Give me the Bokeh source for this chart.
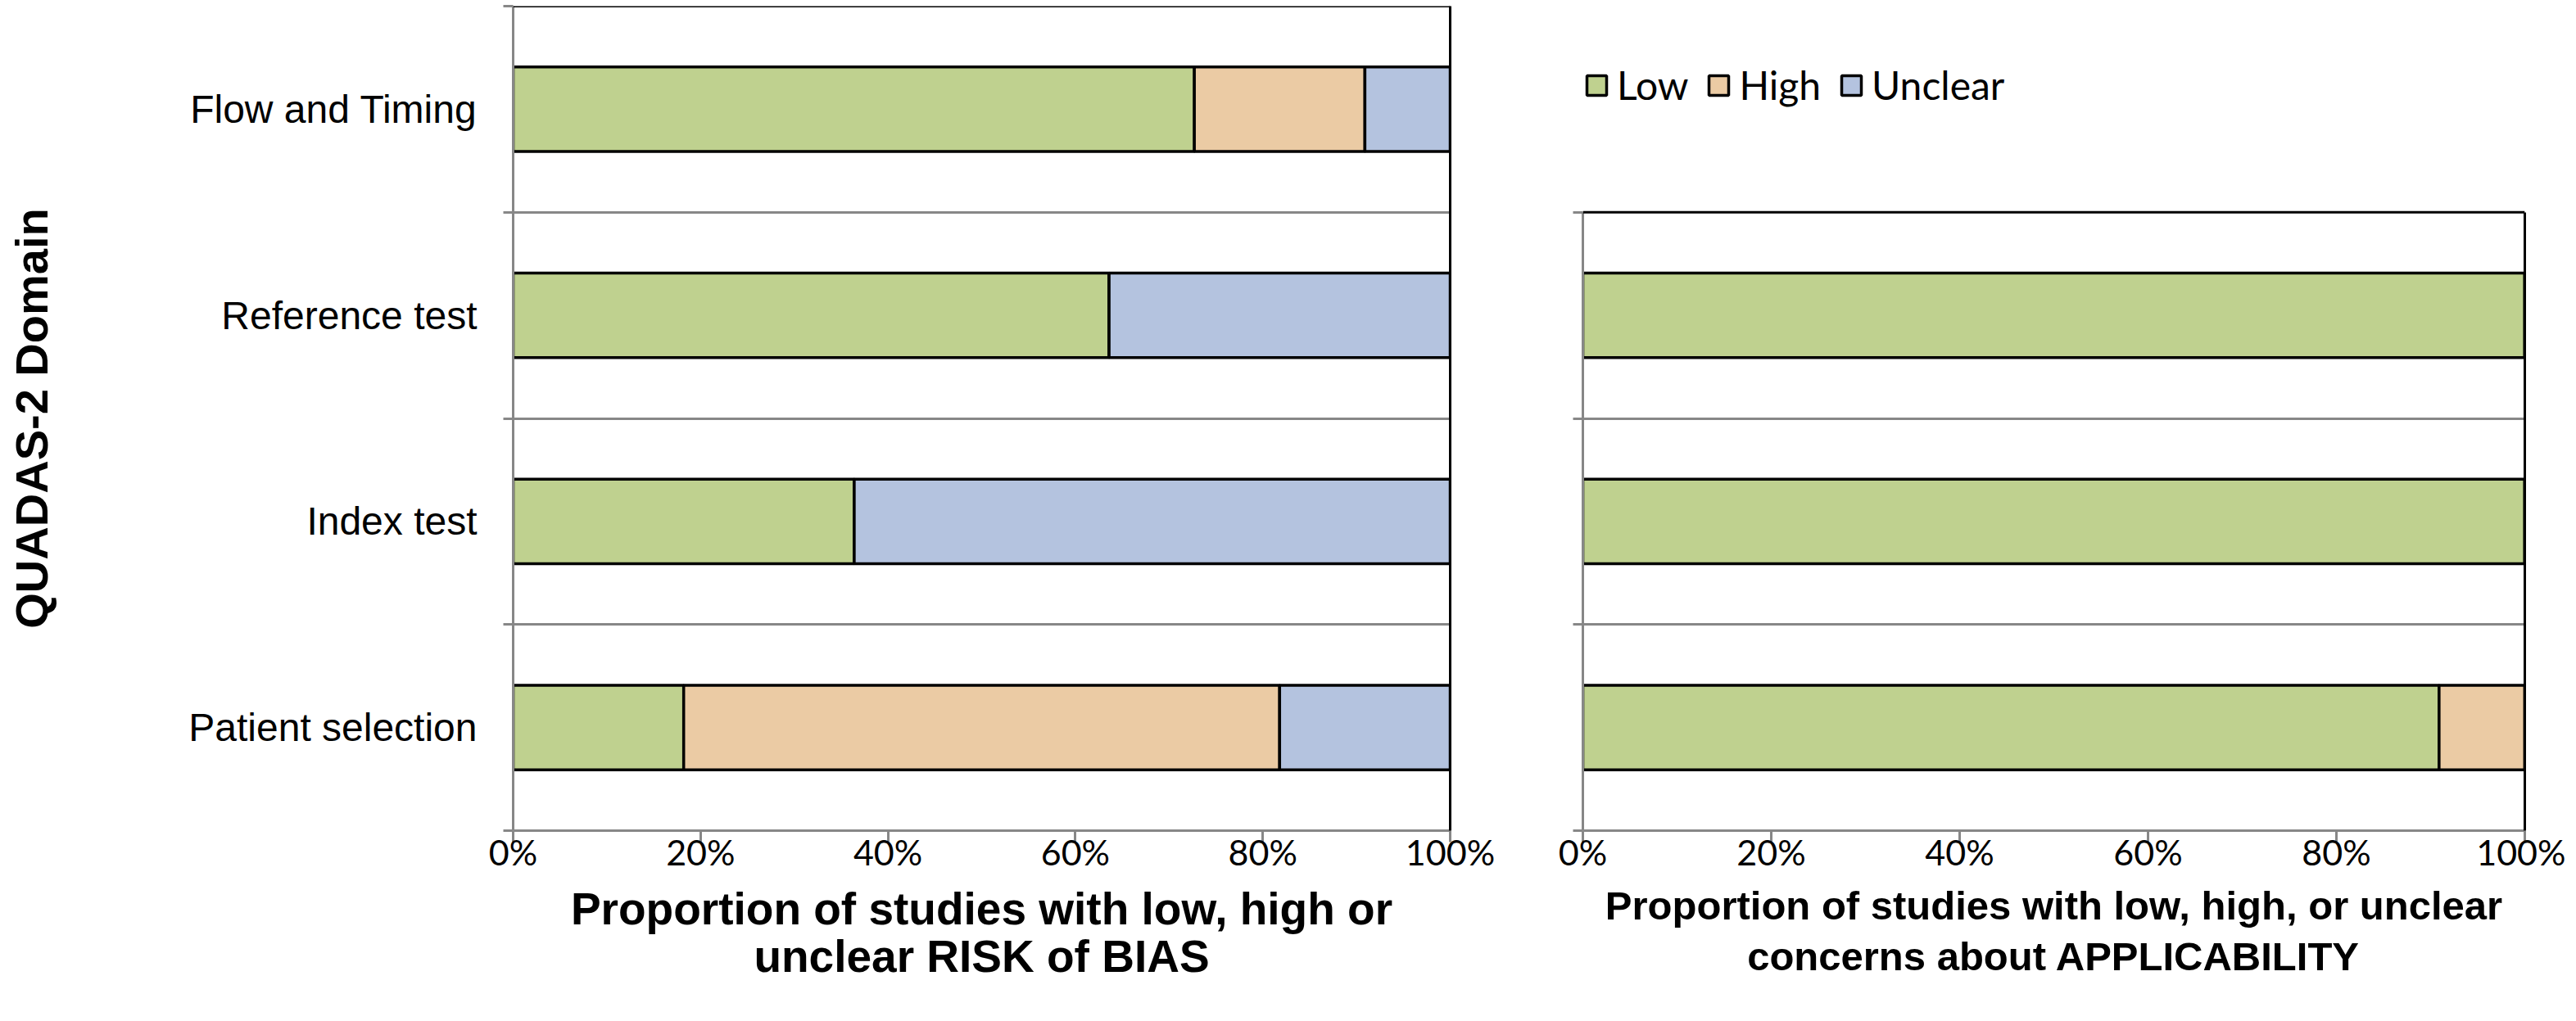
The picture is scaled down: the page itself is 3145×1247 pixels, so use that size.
from bokeh.plotting import figure
from bokeh.models import (ColumnDataSource, FixedTicker, PrintfTickFormatter, Span,
                          Legend, LegendItem, Range1d, LinearAxis)
from bokeh.layouts import row
from bokeh.embed import file_html
from bokeh.resources import INLINE

# ---- data ----
bias_domains = ["Patient selection", "Index test", "Reference test", "Flow and Timing"]
bias_low = [18.2, 36.4, 63.6, 72.7]
bias_high = [63.6, 0.0, 0.0, 18.2]
bias_unclear = [18.2, 63.6, 36.4, 9.1]

app_domains = ["Patient selection", "Index test", "Reference test"]
app_low = [90.9, 100.0, 100.0]
app_high = [9.1, 0.0, 0.0]
app_unclear = [0.0, 0.0, 0.0]

series = ["Low", "High", "Unclear"]
x_ticks = [0, 20, 40, 60, 80, 100]

colors = ["#BFD18F", "#EBCBA4", "#B4C3DF"]
GREY = "#878787"
TICK_FONT = "Lato"
LABEL_FONT = "Liberation Sans"

H = 1230
N_ROWS = len(bias_domains)


def make_fig(domains, low, high, unclear, width, mb_left, mb_right,
             xlabel, xlabel_size, xlabel_lh, show_labels):
    n = len(domains)
    ys = [i + 0.5 for i in range(n)]
    src = ColumnDataSource(dict(y=ys, Low=low, High=high, Unclear=unclear))
    p = figure(width=width, height=H, output_backend="svg", toolbar_location=None,
               x_range=Range1d(0, 100), y_range=Range1d(0, N_ROWS),
               min_border_left=mb_left, min_border_right=mb_right,
               min_border_top=7, min_border_bottom=216)
    p.outline_line_color = None
    p.background_fill_color = "white"
    p.border_fill_color = "white"
    rs = p.hbar_stack(series, y="y", height=0.41, source=src,
                      fill_color=colors, line_color="black", line_width=3.5)
    # grid
    p.xgrid.visible = False
    p.ygrid.ticker = FixedTicker(ticks=list(range(1, n)))
    p.ygrid.grid_line_color = GREY
    p.ygrid.grid_line_width = 3
    # top / right borders
    p.add_layout(Span(location=n, dimension="width", line_color="black", line_width=3))
    rax = LinearAxis(bounds=(0, n), ticker=FixedTicker(ticks=[]),
                     axis_line_color="black", axis_line_width=3,
                     major_tick_line_color=None, minor_tick_line_color=None,
                     major_label_text_font_size="0px")
    p.add_layout(rax, "right")
    # x axis
    xa = p.xaxis[0]
    xa.ticker = FixedTicker(ticks=x_ticks, minor_ticks=[])
    xa.formatter = PrintfTickFormatter(format="%d%%")
    xa.axis_line_color = GREY
    xa.axis_line_width = 3
    xa.major_tick_line_color = GREY
    xa.major_tick_line_width = 3
    xa.major_tick_in = 0
    xa.major_tick_out = 14
    xa.minor_tick_line_color = None
    xa.major_label_text_font = TICK_FONT
    xa.major_label_text_font_size = "43px"
    xa.major_label_text_color = "black"
    xa.major_label_standoff = -14
    xa.axis_label = xlabel
    xa.axis_label_text_font = LABEL_FONT
    xa.axis_label_text_font_style = "bold"
    xa.axis_label_text_font_size = xlabel_size
    xa.axis_label_text_color = "black"
    xa.axis_label_standoff = 10
    xa.axis_label_text_line_height = xlabel_lh
    # y axis
    ya = p.yaxis[0]
    ya.bounds = (0, n)
    ya.ticker = FixedTicker(ticks=ys, minor_ticks=list(range(0, n + 1)))
    ya.axis_line_color = GREY
    ya.axis_line_width = 3
    ya.major_tick_line_color = None
    ya.minor_tick_line_color = GREY
    ya.minor_tick_line_width = 3
    ya.minor_tick_in = 0
    ya.minor_tick_out = 12
    if show_labels:
        ya.major_label_overrides = {y: d for y, d in zip(ys, domains)}
        ya.major_label_text_font = LABEL_FONT
        ya.major_label_text_font_size = "48px"
        ya.major_label_text_color = "black"
        ya.major_label_standoff = 32
        ya.axis_label = "QUADAS-2 Domain"
        ya.axis_label_text_font = LABEL_FONT
        ya.axis_label_text_font_style = "bold"
        ya.axis_label_text_font_size = "56px"
        ya.axis_label_text_color = "black"
        ya.axis_label_standoff = 157
    else:
        ya.major_label_text_font_size = "0px"
        ya.major_label_text_color = None
    return p, rs


left, _ = make_fig(bias_domains, bias_low, bias_high, bias_unclear,
                   width=1852, mb_left=626, mb_right=82,
                   xlabel="Proportion of studies with low, high or\nunclear RISK of BIAS",
                   xlabel_size="55px", xlabel_lh=0.95, show_labels=True)

right, rrs = make_fig(app_domains, app_low, app_high, app_unclear,
                      width=1280, mb_left=80, mb_right=50,
                      xlabel="Proportion of studies with low, high, or unclear\nconcerns about APPLICABILITY",
                      xlabel_size="49px", xlabel_lh=1.15, show_labels=False)

legend = Legend(items=[LegendItem(label=s, renderers=[r]) for s, r in zip(series, rrs)],
                orientation="horizontal", location=(2, 882))
legend.border_line_color = None
legend.background_fill_alpha = 0
legend.padding = 0
legend.margin = 0
legend.spacing = 22
legend.label_standoff = 10
legend.glyph_width = 30
legend.glyph_height = 30
legend.label_text_font = TICK_FONT
legend.label_text_font_size = "48px"
legend.label_text_color = "black"
right.add_layout(legend)

layout = row(left, right)
open("out.html", "w").write(file_html(layout, INLINE))
